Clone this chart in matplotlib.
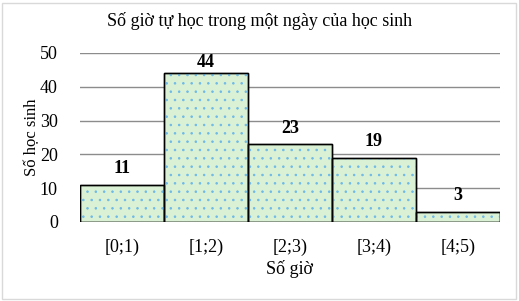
import matplotlib
matplotlib.use("Agg")
import matplotlib.pyplot as plt
from matplotlib.patches import Rectangle

categories = ["[0;1)", "[1;2)", "[2;3)", "[3;4)", "[4;5)"]
values = [11, 44, 23, 19, 3]
yticks = [0, 10, 20, 30, 40, 50]

plt.rcParams['font.family'] = ['Liberation Serif', 'DejaVu Serif']
plt.rcParams['hatch.linewidth'] = 0.6

fig = plt.figure(figsize=(5.19, 3.01), dpi=100)
ax = fig.add_axes([80/519, 79/301, 420/519, 169/301])

x = list(range(len(categories)))
ax.bar(x, values, width=1.0, color='#dbf1d5', edgecolor='black', linewidth=1.0, zorder=2)
ax.bar(x, values, width=1.0, color='none', edgecolor='#6db9e8', hatch='..', linewidth=0, zorder=3)
ax.bar(x, values, width=1.0, color='none', edgecolor='black', linewidth=1.0, zorder=4)

for xi, v in zip(x, values):
    ax.text(xi, min(v + 4.7, 47.3), str(v), ha='center', va='center', fontsize=13,
            fontweight='bold', zorder=5)

ax.set_xlim(-0.5, len(categories) - 0.5)
ax.set_ylim(0, 50)
ax.set_yticks(yticks)
ax.set_xticks(x)
ax.set_xticklabels(categories)
ax.tick_params(axis='both', length=0, labelsize=13)
ax.tick_params(axis='x', pad=12)
ax.tick_params(axis='y', pad=16)
ax.yaxis.grid(True, color='#8c8c8c', linewidth=1.0, zorder=0)
ax.set_axisbelow(True)
for s in ax.spines.values():
    s.set_visible(False)

ax.set_xlabel("Số giờ", fontsize=13, labelpad=3)
ax.set_ylabel("Số học sinh", fontsize=12, labelpad=0)
fig.text(260/519, 1 - 21/301, "Số giờ tự học trong một ngày của học sinh", ha='center', va='center', fontsize=13)

fig.patches.append(Rectangle((2/519, 2/301), 1 - 5/519, 1 - 5/301, transform=fig.transFigure,
                             fill=False, edgecolor='#d9d9d9', linewidth=1.0))

fig.savefig("out.png", dpi=100)
